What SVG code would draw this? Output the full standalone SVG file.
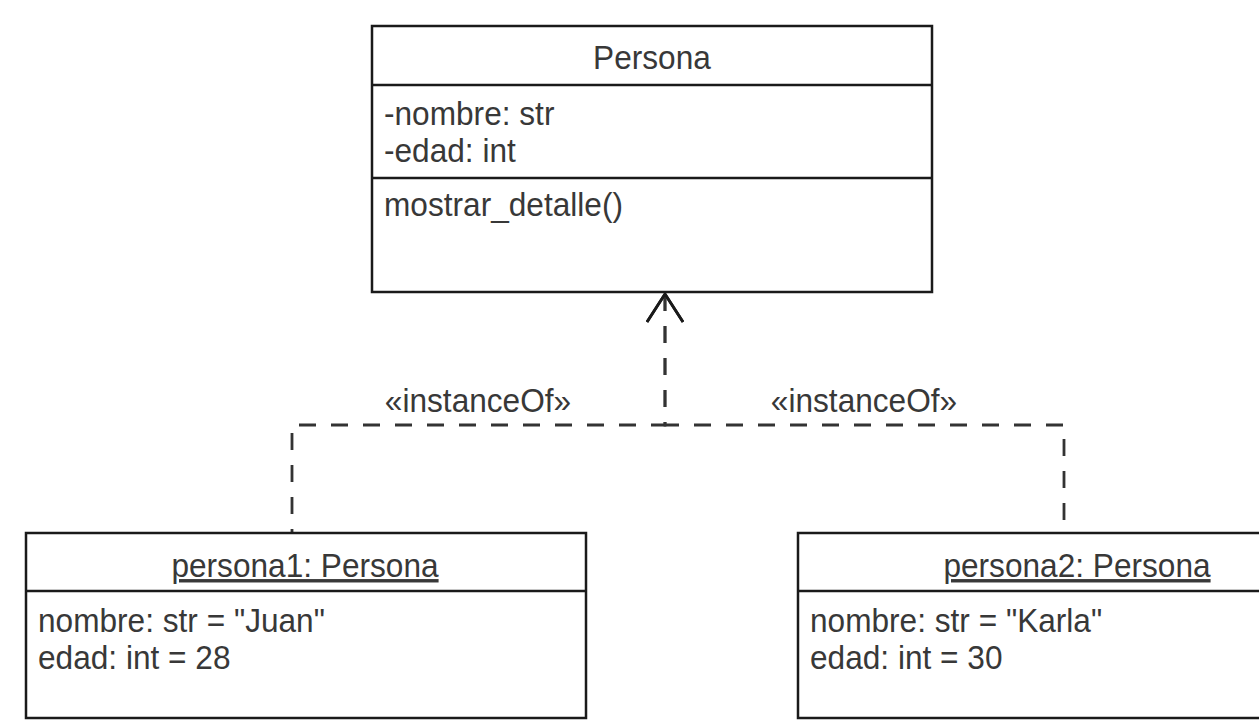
<svg xmlns="http://www.w3.org/2000/svg" width="1259" height="724" viewBox="0 0 1259 724">
<defs>
<style>
.box{fill:#ffffff;stroke:#1a1a1a;stroke-width:2.5}
.div{stroke:#1a1a1a;stroke-width:2.5}
.t{font-family:"Liberation Sans",Arial,sans-serif;font-size:34px;fill:#383838}
.c{text-anchor:middle}
.u{text-decoration:underline}
.edge{fill:none;stroke:#333333;stroke-width:2.8;stroke-dasharray:17 15}
</style>
<marker id="open" markerUnits="userSpaceOnUse" markerWidth="60" markerHeight="60" viewBox="-40 -30 60 60" refX="0" refY="0" orient="auto-start-reverse">
<path d="M-28,-18 L0,0 L-28,18" fill="none" stroke="#1a1a1a" stroke-width="2.8"/>
</marker>
</defs>
<rect width="1259" height="724" fill="#ffffff"/>
<g id="connectors">
<path class="edge" d="M665,294 V425 H292 V532" marker-start="url(#open)"/>
<path class="edge" d="M665,294 V425 H1064 V532" marker-start="url(#open)"/>
<text class="t c" transform="translate(478,412) scale(0.93,1)">«instanceOf»</text>
<text class="t c" transform="translate(864,412) scale(0.93,1)">«instanceOf»</text>
</g>
<g id="Persona">
<rect class="box" x="372" y="26" width="560" height="266"/>
<line class="div" x1="372" y1="85" x2="932" y2="85"/>
<line class="div" x1="372" y1="178" x2="932" y2="178"/>
<text class="t c" transform="translate(652,69) scale(0.93,1)">Persona</text>
<text class="t" transform="translate(384,125) scale(0.93,1)">-nombre: str</text>
<text class="t" transform="translate(384,162) scale(0.93,1)">-edad: int</text>
<text class="t" transform="translate(384,216) scale(0.93,1)">mostrar_detalle()</text>
</g>
<g id="persona1">
<rect class="box" x="26" y="533" width="560" height="185"/>
<line class="div" x1="26" y1="591" x2="586" y2="591"/>
<text class="t c u" transform="translate(305,577) scale(0.93,1)">persona1: Persona</text>
<text class="t" transform="translate(38,632) scale(0.93,1)">nombre: str = "Juan"</text>
<text class="t" transform="translate(38,669) scale(0.93,1)">edad: int = 28</text>
</g>
<g id="persona2">
<rect class="box" x="798" y="533" width="560" height="185"/>
<line class="div" x1="798" y1="591" x2="1358" y2="591"/>
<text class="t c u" transform="translate(1077,577) scale(0.93,1)">persona2: Persona</text>
<text class="t" transform="translate(810,632) scale(0.93,1)">nombre: str = "Karla"</text>
<text class="t" transform="translate(810,669) scale(0.93,1)">edad: int = 30</text>
</g>
</svg>
